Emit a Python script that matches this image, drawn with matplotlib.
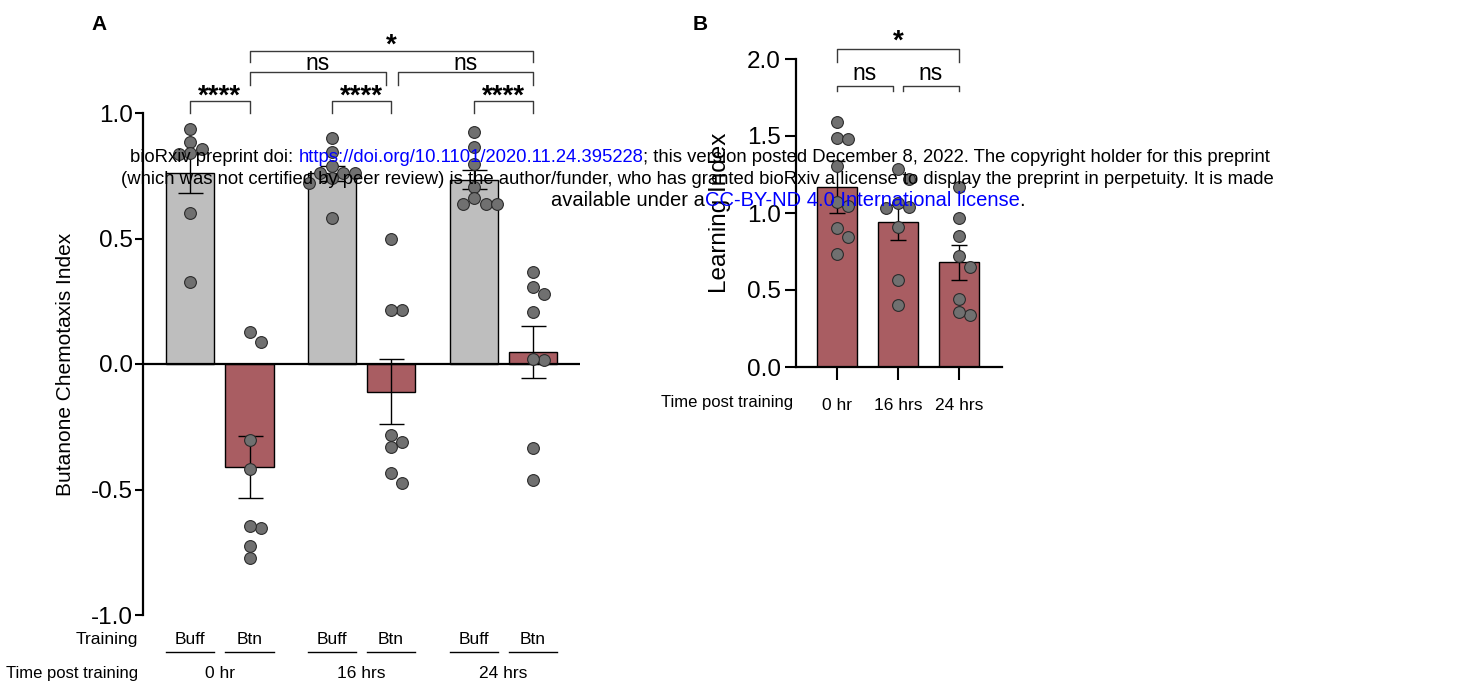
import numpy as np
import matplotlib
matplotlib.use('Agg')
import matplotlib.pyplot as plt
from matplotlib import transforms

plt.rcParams['font.family'] = ['Liberation Sans', 'DejaVu Sans']

# ---- panel A data: butanone chemotaxis index ----
training = ['Buff', 'Btn', 'Buff', 'Btn', 'Buff', 'Btn']
time_labels = ['0 hr', '16 hrs', '24 hrs']
means_a = [0.76, -0.41, 0.76, -0.11, 0.735, 0.047]
sems_a = [0.077, 0.125, 0.03, 0.13, 0.037, 0.103]
buff_0hr = [0.936, 0.885, 0.857, 0.84, 0.837, 0.60, 0.327]
btn_0hr = [0.127, 0.088, -0.303, -0.42, -0.653, -0.645, -0.725, -0.773]
buff_16hr = [0.90, 0.845, 0.79, 0.76, 0.76, 0.76, 0.74, 0.72, 0.58]
btn_16hr = [0.50, 0.215, 0.215, -0.283, -0.31, -0.33, -0.434, -0.474]
buff_24hr = [0.924, 0.865, 0.797, 0.705, 0.66, 0.637, 0.637, 0.637]
btn_24hr = [0.366, 0.307, 0.28, 0.207, 0.016, 0.02, -0.334, -0.462]
points_a = [buff_0hr, btn_0hr, buff_16hr, btn_16hr, buff_24hr, btn_24hr]

# ---- panel B data: learning index ----
times_b = ['0 hr', '16 hrs', '24 hrs']
means_b = [1.17, 0.94, 0.68]
sems_b = [0.17, 0.115, 0.115]
learn_0hr = [1.59, 1.49, 1.48, 1.305, 1.07, 1.045, 0.90, 0.845, 0.735]
learn_16hr = [1.285, 1.22, 1.065, 1.04, 1.03, 0.91, 0.565, 0.40]
learn_24hr = [1.17, 0.97, 0.85, 0.72, 0.65, 0.44, 0.34, 0.36]
points_b = [learn_0hr, learn_16hr, learn_24hr]

GRAY = '#bebebe'
RED = '#a95d62'
DOT = '#707070'
W, H = 1476, 689


def swarm(vals, ppu_y, ppu_x, diam=11.5):
    # simple beeswarm: offsets in data x units
    order = np.argsort(vals)[::-1]
    placed = []
    offs = np.zeros(len(vals))
    for i in order:
        y = vals[i] * ppu_y
        for k in [0, 1, -1, 2, -2, 3, -3]:
            x = k * diam
            if all((x - px) ** 2 + (y - py) ** 2 >= (diam * 0.95) ** 2 for px, py in placed):
                break
        placed.append((x, y))
        offs[i] = x / ppu_x
    return offs


def bracket(ax, x1, x2, ytop, ybot, label, ty, star=False):
    ax.plot([x1, x1, x2, x2], [ybot, ytop, ytop, ybot], color='#3a3a3a', lw=1,
            clip_on=False, zorder=6)
    if star:
        ax.text((x1 + x2) / 2, ty, label, ha='center', va='baseline', fontsize=20,
                fontweight='bold', clip_on=False)
    else:
        ax.text((x1 + x2) / 2, ty, label, ha='center', va='baseline', fontsize=16.5,
                clip_on=False)


fig = plt.figure(figsize=(W / 100, H / 100), dpi=100)

# ================= panel A =================
ax = fig.add_axes([143 / W, 1 - 615 / H, 437 / W, 502 / H])
pos_a = np.array([0, 1, 2.38, 3.37, 4.77, 5.76])
cols_a = [GRAY, RED] * 3
ax.bar(pos_a, means_a, width=0.81, color=cols_a, edgecolor='black', linewidth=1, zorder=2)
ax.errorbar(pos_a, means_a, yerr=sems_a, fmt='none', ecolor='black', elinewidth=1,
            capsize=9, capthick=1, zorder=3)
ax.axhline(0, color='black', lw=1.6, zorder=3.5)
for p, vals in zip(pos_a, points_a):
    off = swarm(np.array(vals), 251, 59.5)
    ax.scatter(p + off, vals, s=72, color=DOT, edgecolor='#2b2b2b', linewidth=0.8, zorder=4)

ax.set_xlim(-0.79, 6.55)
ax.set_ylim(-1.0, 1.0)
for s in ['top', 'right', 'bottom']:
    ax.spines[s].set_visible(False)
ax.spines['left'].set_linewidth(1.6)
ax.set_xticks([])
ax.set_yticks([-1, -0.5, 0, 0.5, 1])
ax.set_yticklabels(['-1.0', '-0.5', '0.0', '0.5', '1.0'], fontsize=17.5)
ax.tick_params(axis='y', length=6, width=1.5, pad=1.5)
ax.set_ylabel('Butanone Chemotaxis Index', fontsize=15, labelpad=11)

# significance brackets (y in data units)
bracket(ax, pos_a[0], pos_a[1], 1.048, 1.0, '****', 1.036, star=True)
bracket(ax, pos_a[2], pos_a[3], 1.048, 1.0, '****', 1.036, star=True)
bracket(ax, pos_a[4], pos_a[5], 1.048, 1.0, '****', 1.036, star=True)
bracket(ax, pos_a[1], 3.29, 1.163, 1.11, 'ns', 1.171)
bracket(ax, 3.49, pos_a[5], 1.163, 1.11, 'ns', 1.171)
bracket(ax, pos_a[1], pos_a[5], 1.247, 1.203, '*', 1.242, star=True)

tr = transforms.blended_transform_factory(ax.transData, ax.transAxes)
for p, lab in zip(pos_a, training):
    ax.text(p, -0.048, lab, transform=tr, ha='center', va='center', fontsize=12.5)
    ax.plot([p - 0.405, p + 0.405], [-0.073, -0.073], transform=tr, color='black',
            lw=1, clip_on=False)
for i, lab in enumerate(time_labels):
    ax.text((pos_a[2 * i] + pos_a[2 * i + 1]) / 2, -0.117, lab, transform=tr,
            ha='center', va='center', fontsize=12.5)
ax.text(-0.012, -0.048, 'Training', transform=ax.transAxes, ha='right', va='center',
        fontsize=12.5)
ax.text(-0.012, -0.117, 'Time post training', transform=ax.transAxes, ha='right',
        va='center', fontsize=12)

# ================= panel B =================
bx = fig.add_axes([796 / W, 1 - 367 / H, 206 / W, 308 / H])
pos_b = np.arange(3)
bx.bar(pos_b, means_b, width=0.67, color=RED, edgecolor='black', linewidth=1, zorder=2)
bx.errorbar(pos_b, means_b, yerr=sems_b, fmt='none', ecolor='black', elinewidth=1,
            capsize=6, capthick=1, zorder=3)
for p, vals in zip(pos_b, points_b):
    off = swarm(np.array(vals), 154, 61)
    bx.scatter(p + off, vals, s=72, color=DOT, edgecolor='#2b2b2b', linewidth=0.8, zorder=4)

bx.set_xlim(-0.672, 2.705)
bx.set_ylim(0, 2.0)
for s in ['top', 'right']:
    bx.spines[s].set_visible(False)
bx.spines['left'].set_linewidth(1.6)
bx.spines['bottom'].set_linewidth(1.6)
bx.set_yticks([0, 0.5, 1.0, 1.5, 2.0])
bx.set_yticklabels(['0.0', '0.5', '1.0', '1.5', '2.0'], fontsize=17.5)
bx.tick_params(axis='y', length=8, width=1.5, pad=3)
bx.set_xticks(pos_b)
bx.set_xticklabels(times_b, fontsize=12.5)
bx.tick_params(axis='x', length=9, width=1.5, pad=13)
bx.set_ylabel('Learning Index', fontsize=17.5, labelpad=11)
bx.text(-0.015, -0.115, 'Time post training', transform=bx.transAxes, ha='right',
        va='center', fontsize=12)

bracket(bx, 0, 0.918, 1.825, 1.79, 'ns', 1.863)
bracket(bx, 1.082, 2, 1.825, 1.79, 'ns', 1.863)
bracket(bx, 0, 2, 2.065, 1.98, '*', 2.07, star=True)

# panel letters
fig.text(91 / W, 1 - 25 / H, 'A', fontsize=15, fontweight='bold', va='center')
fig.text(693 / W, 1 - 25 / H, 'B', fontsize=15, fontweight='bold', va='center')

# ---- bioRxiv watermark ----
BLUE = '#0000ff'
lines = [
    [('bioRxiv preprint doi: ', 'black'), ('https://doi.org/10.1101/2020.11.24.395228', BLUE),
     ('; this version posted December 8, 2022. The copyright holder for this preprint', 'black')],
    [('(which was not certified by peer review) is the author/funder, who has granted bioRxiv '
      'a license to display the preprint in perpetuity. It is made', 'black')],
    [('available under a', 'black'), ('CC-BY-ND 4.0 International license', BLUE), ('.', 'black')],
]
ys = [158, 180, 201]
centers = [700, 697, 788]
sizes = [13.3, 13.3, 14.5]
renderer = fig.canvas.get_renderer()
for parts, yp, xc, fs in zip(lines, ys, centers, sizes):
    txts = [fig.text(0, 1 - yp / H, s, color=c, fontsize=fs, va='center', ha='left',
                     zorder=10) for s, c in parts]
    widths = [t.get_window_extent(renderer).width for t in txts]
    x = xc - sum(widths) / 2
    for t, w in zip(txts, widths):
        t.set_x(x / W)
        x += w

fig.savefig('out.png', dpi=100)
